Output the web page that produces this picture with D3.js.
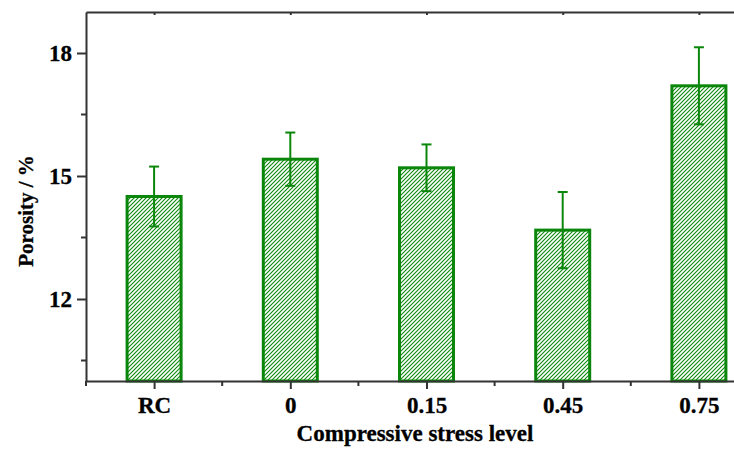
<!doctype html>
<html>
<head>
<style>
  body { margin: 0; background: #fff; }
  text { font-family: "Liberation Serif", "DejaVu Serif", serif; font-weight: bold; }
</style>
<script src="https://d3js.org/d3.v7.min.js"></script>
</head>
<body>
<svg width="734" height="450"></svg>
<script>
// data
var categories = ["RC", "0", "0.15", "0.45", "0.75"];
var porosity = [14.50, 15.41, 15.20, 13.68, 17.20];
var errors = [0.73, 0.65, 0.57, 0.93, 0.94];
var yTicks = [12, 15, 18];
var yMinorTicks = [10.5, 13.5, 16.5];

var svg = d3.select("svg");
var plotLeft = 86, plotTop = 12, plotBottom = 381, plotRight = 767;
var green = "#0a870a";
var axisColor = "#333";
var tickFont = 23;

var x = d3.scalePoint().domain(categories).range([plotLeft, plotRight]).padding(0.5);
var y = d3.scaleLinear().domain([10, 19]).range([plotBottom, plotTop]);
var step = x.step();
var barW = 54;

// hatch pattern
var pat = svg.append("defs").append("pattern")
    .attr("id", "hatch")
    .attr("patternUnits", "userSpaceOnUse")
    .attr("width", 4).attr("height", 4);
pat.append("rect").attr("width", 4).attr("height", 4).attr("fill", "#fff");
pat.append("path")
    .attr("d", "M-1,1 l2,-2 M0,4 l4,-4 M3,5 l2,-2")
    .attr("stroke", green).attr("stroke-width", 1.1);

// bars
svg.selectAll(".bar")
    .data(categories)
    .enter().append("rect")
    .attr("class", "bar")
    .attr("x", function(d) { return x(d) - barW / 2; })
    .attr("y", function(d, i) { return y(porosity[i]); })
    .attr("width", barW)
    .attr("height", function(d, i) { return plotBottom - y(porosity[i]); })
    .attr("fill", "url(#hatch)")
    .attr("stroke", green)
    .attr("stroke-width", 3);

// error bars
var eb = svg.selectAll(".err")
    .data(categories)
    .enter().append("g")
    .attr("class", "err")
    .attr("stroke", green)
    .attr("stroke-width", 2);
eb.append("line")
    .attr("x1", function(d) { return x(d); })
    .attr("x2", function(d) { return x(d); })
    .attr("y1", function(d, i) { return y(porosity[i] + errors[i]); })
    .attr("y2", function(d, i) { return y(porosity[i] - errors[i]); });
eb.append("line")
    .attr("x1", function(d) { return x(d) - 5; })
    .attr("x2", function(d) { return x(d) + 5; })
    .attr("y1", function(d, i) { return y(porosity[i] + errors[i]); })
    .attr("y2", function(d, i) { return y(porosity[i] + errors[i]); });
eb.append("line")
    .attr("x1", function(d) { return x(d) - 5; })
    .attr("x2", function(d) { return x(d) + 5; })
    .attr("y1", function(d, i) { return y(porosity[i] - errors[i]); })
    .attr("y2", function(d, i) { return y(porosity[i] - errors[i]); });

// minor x positions: halfway between categories
var xMinor = [x(categories[0]) - step / 2].concat(categories.map(function(d) { return x(d) + step / 2; }));

// bottom axis
var xAxis = svg.append("g")
    .attr("transform", "translate(0," + plotBottom + ")")
    .call(d3.axisBottom(x).tickSize(8).tickSizeOuter(0).tickPadding(8));
xAxis.select(".domain").attr("stroke", axisColor).attr("stroke-width", 2);
xAxis.selectAll(".tick line").attr("stroke", axisColor).attr("stroke-width", 2);
xAxis.selectAll("text").style("font-size", tickFont + "px").attr("fill", "#000")
    .attr("stroke", "#000").attr("stroke-width", 0.3);
xAxis.selectAll(".minor").data(xMinor).enter().append("line")
    .attr("class", "minor")
    .attr("x1", function(d) { return d; }).attr("x2", function(d) { return d; })
    .attr("y1", 0).attr("y2", 5)
    .attr("stroke", axisColor).attr("stroke-width", 2);

// left axis
var yAxis = svg.append("g")
    .attr("transform", "translate(" + plotLeft + ",0)")
    .call(d3.axisLeft(y).tickValues(yTicks).tickSize(9).tickSizeOuter(0).tickPadding(5));
yAxis.select(".domain").attr("stroke", axisColor).attr("stroke-width", 2);
yAxis.selectAll(".tick line").attr("stroke", axisColor).attr("stroke-width", 2);
yAxis.selectAll("text").style("font-size", tickFont + "px").attr("fill", "#000")
    .attr("stroke", "#000").attr("stroke-width", 0.3);
yAxis.selectAll(".minor").data(yMinorTicks).enter().append("line")
    .attr("class", "minor")
    .attr("y1", function(d) { return y(d); }).attr("y2", function(d) { return y(d); })
    .attr("x1", 0).attr("x2", -5)
    .attr("stroke", axisColor).attr("stroke-width", 2);

// top frame line
var topAxis = svg.append("g")
    .attr("transform", "translate(0," + plotTop + ")")
    .call(d3.axisTop(x).tickSize(-3).tickSizeOuter(0).tickFormat(""));
topAxis.select(".domain").attr("stroke", axisColor).attr("stroke-width", 2);
topAxis.selectAll(".tick line").attr("stroke", axisColor).attr("stroke-width", 2);

// axis titles
svg.append("text")
    .attr("x", 415)
    .attr("y", 441)
    .attr("text-anchor", "middle")
    .style("font-size", "23px")
    .attr("stroke", "#000").attr("stroke-width", 0.3)
    .text("Compressive stress level");

svg.append("text")
    .attr("transform", "translate(33,211) rotate(-90)")
    .attr("text-anchor", "middle")
    .style("font-size", "21px")
    .attr("stroke", "#000").attr("stroke-width", 0.3)
    .text("Porosity / %");
</script>
</body>
</html>
